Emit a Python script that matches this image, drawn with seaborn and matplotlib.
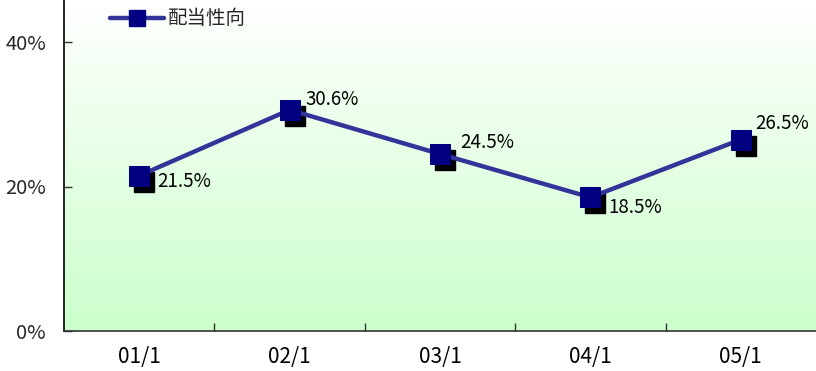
import numpy as np
import pandas as pd
import matplotlib
matplotlib.use("Agg")
import matplotlib.pyplot as plt
import matplotlib.transforms as mtransforms
from matplotlib.colors import LinearSegmentedColormap
from matplotlib.lines import Line2D
import seaborn as sns

# Payout ratio by fiscal year
periods = ["01/1", "02/1", "03/1", "04/1", "05/1"]
payout_ratio = [21.5, 30.6, 24.5, 18.5, 26.5]
series_name = "配当性向"
y_ticks = [0, 20, 40]

# label offsets in pixels (dx, dy) from each marker
label_offsets = [(18, -6), (16, 10), (20, 11), (18, -10), (14, 16)]

sns.set_theme(style="white")
plt.rcParams["font.family"] = ["Noto Sans CJK JP", "DejaVu Sans"]

fig = plt.figure(figsize=(8.16, 3.71), dpi=100)
ax = fig.add_axes([64 / 816, 40 / 371, 1 - 64 / 816, 331 / 371])

df = pd.DataFrame({"period": np.arange(len(periods)), "ratio": payout_ratio})

# vertical gradient background: white at top to pale green at bottom
cmap = LinearSegmentedColormap.from_list("bg", ["#ccffcc", "#ffffff"])
grad = np.linspace(0, 1, 256).reshape(-1, 1)
ax.imshow(grad, cmap=cmap, aspect="auto", origin="lower",
          extent=[0, 1, 0, 1], transform=ax.transAxes, zorder=0)

line_color = "#333399"
marker_color = "#000080"

# drop shadow behind the markers
shadow = mtransforms.offset_copy(ax.transData, fig=fig, x=5, y=-6, units="dots")
ax.plot(df["period"], df["ratio"], linestyle="none", marker="s", markersize=14,
        color="black", transform=shadow, zorder=2)

sns.lineplot(data=df, x="period", y="ratio", ax=ax, color=line_color,
             linewidth=3.2, marker="s", markersize=14,
             markerfacecolor=marker_color, markeredgecolor=marker_color,
             zorder=3, legend=False)

for xi, v, (dx, dy) in zip(df["period"], payout_ratio, label_offsets):
    ax.annotate(f"{v:.1f}%", xy=(xi, v), xytext=(dx * 0.72, dy * 0.72),
                textcoords="offset points", ha="left", va="center",
                fontsize=13.5, color="black", zorder=4)

ax.set_xlim(-0.5, len(periods) - 0.5)
ax.set_ylim(0, 331 / 7.225)
ax.set_xticks(range(len(periods)))
ax.set_xticklabels(periods, fontsize=15)
ax.set_xticks(np.arange(0.5, len(periods) - 0.5, 1), minor=True)
ax.tick_params(axis="x", which="major", length=0, pad=11, colors="black")
ax.tick_params(axis="x", which="minor", direction="in", length=6, width=1,
               color="#333333", bottom=True)
ax.set_yticks(y_ticks)
ax.set_yticklabels([f"{t}%" for t in y_ticks], fontsize=14.5)
ax.tick_params(axis="y", direction="in", length=6, width=1, pad=13,
               color="#333333", left=True)
ax.set_xlabel("")
ax.set_ylabel("")

for side in ["top", "right"]:
    ax.spines[side].set_visible(False)
ax.spines["left"].set_color("black")
ax.spines["bottom"].set_color("#333333")
ax.spines["left"].set_linewidth(1.2)
ax.spines["bottom"].set_linewidth(1.2)
ax.grid(False)

handle = Line2D([], [], color=line_color, linewidth=3.2, marker="s",
                markersize=11, markerfacecolor=marker_color,
                markeredgecolor=marker_color)
ax.legend([handle], [series_name], loc="center left",
          bbox_to_anchor=((110 - 64) / 752, 1 - 19 / 331), frameon=False,
          fontsize=14, handlelength=2.8, handletextpad=0.2, borderpad=0,
          borderaxespad=0)

fig.savefig("out.png", dpi=100)
